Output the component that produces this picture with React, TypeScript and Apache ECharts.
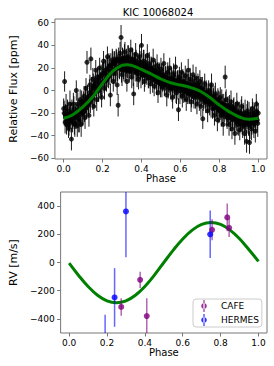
import React, { useEffect, useRef } from "react";
import * as echarts from "echarts";

const titleText = "KIC 10068024";
const phaseTicks = [0, 0.2, 0.4, 0.6, 0.8, 1.0];
const fluxTicks = [-60, -40, -20, 0, 20, 40, 60];
const rvTicks = [-400, -200, 0, 200, 400];

// [phase, flux (ppm), error (ppm)]
const fluxPoints: number[][] = [
  [0.000, -16, 9], [0.005, 8, 9], [0.010, -22, 10], [0.015, -30, 9], [0.020, -18, 10],
  [0.025, -33, 9], [0.030, -25, 11], [0.035, -20, 9], [0.040, -43, 10], [0.045, -28, 9],
  [0.050, -12, 10], [0.055, -30, 9], [0.060, -24, 10], [0.065, 0, 9], [0.070, -31, 10],
  [0.075, -17, 9], [0.080, -27, 10], [0.085, -8, 9], [0.090, -30, 11], [0.095, -14, 9],
  [0.100, -20, 10], [0.105, -5, 9], [0.110, -24, 10], [0.115, 2, 9], [0.120, 25, 10],
  [0.125, -12, 9], [0.130, -22, 10], [0.135, 5, 9], [0.140, 28, 10], [0.145, -4, 9],
  [0.150, 10, 10], [0.155, -14, 9], [0.160, 3, 10], [0.165, 18, 9], [0.170, -8, 10],
  [0.175, 12, 9], [0.180, 0, 10], [0.185, 20, 9], [0.190, 6, 10], [0.195, -6, 9],
  [0.200, 15, 10], [0.205, 26, 9], [0.210, 2, 10], [0.215, 18, 9], [0.220, 9, 10],
  [0.225, 30, 9], [0.230, 12, 10], [0.235, 22, 9], [0.240, -4, 10], [0.245, 17, 9],
  [0.250, 27, 10], [0.255, 8, 9], [0.260, 24, 10], [0.265, 15, 9], [0.270, 27, 10],
  [0.275, 5, 9], [0.280, -13, 10], [0.285, 20, 9], [0.290, 33, 10], [0.295, 47, 11],
  [0.300, 14, 10], [0.305, 28, 9], [0.310, 18, 10], [0.315, 34, 9], [0.320, 22, 10],
  [0.325, 8, 9], [0.330, 30, 10], [0.335, 18, 9], [0.340, 25, 10], [0.345, 36, 9],
  [0.350, 12, 10], [0.355, 28, 9], [0.360, -3, 10], [0.365, 24, 9], [0.370, 32, 10],
  [0.375, 17, 9], [0.380, 21, 10], [0.385, 10, 9], [0.390, 30, 10], [0.395, 19, 9],
  [0.400, 40, 10], [0.405, 14, 9], [0.410, 26, 10], [0.415, 8, 9], [0.420, 22, 10],
  [0.425, 18, 9], [0.430, 31, 10], [0.435, 11, 9], [0.440, 24, 10], [0.445, 6, 9],
  [0.450, 20, 10], [0.455, 13, 9], [0.460, 27, 10], [0.465, 4, 9], [0.470, 18, 10],
  [0.475, 10, 9], [0.480, 22, 10], [0.485, -2, 9], [0.490, 15, 10], [0.495, 8, 9],
  [0.500, 19, 10], [0.505, 3, 9], [0.510, 14, 10], [0.515, 24, 9], [0.520, 6, 10],
  [0.525, 12, 9], [0.530, -4, 10], [0.535, 16, 9], [0.540, 9, 10], [0.545, 20, 9],
  [0.550, 2, 10], [0.555, 11, 9], [0.560, -6, 10], [0.565, 15, 9], [0.570, 5, 10],
  [0.575, 21, 9], [0.580, -2, 10], [0.585, 9, 9], [0.590, -17, 10], [0.595, 12, 9],
  [0.600, 3, 10], [0.605, 16, 9], [0.610, -5, 10], [0.615, 8, 9], [0.620, 0, 10],
  [0.625, 13, 9], [0.630, -8, 10], [0.635, 6, 9], [0.640, 18, 10], [0.645, -3, 9],
  [0.650, 10, 10], [0.655, -10, 9], [0.660, 4, 10], [0.665, 14, 9], [0.670, -6, 10],
  [0.675, 2, 9], [0.680, 11, 10], [0.685, -12, 9], [0.690, 5, 10], [0.695, -2, 9],
  [0.700, 8, 10], [0.705, -14, 9], [0.710, 2, 10], [0.715, -25, 9], [0.720, -6, 10],
  [0.725, 6, 9], [0.730, -10, 10], [0.735, -2, 9], [0.740, -18, 10], [0.745, 0, 9],
  [0.750, -12, 10], [0.755, -4, 9], [0.760, 5, 10], [0.765, -16, 9], [0.770, -8, 10],
  [0.775, -22, 9], [0.780, -3, 10], [0.785, -14, 9], [0.790, -26, 10], [0.795, -9, 9],
  [0.800, -18, 10], [0.805, -6, 9], [0.810, -22, 10], [0.815, -12, 9], [0.820, -30, 10],
  [0.825, -16, 9], [0.830, 12, 10], [0.835, -8, 9], [0.840, -24, 10], [0.845, -14, 9],
  [0.850, -30, 10], [0.855, -20, 9], [0.860, -10, 10], [0.865, -34, 9], [0.870, -22, 10],
  [0.875, -15, 9], [0.880, -38, 10], [0.885, -24, 9], [0.890, -12, 10], [0.895, -30, 9],
  [0.900, -20, 10], [0.905, -35, 9], [0.910, -26, 10], [0.915, -14, 9], [0.920, -32, 10],
  [0.925, -22, 9], [0.930, -38, 10], [0.935, -27, 9], [0.940, -45, 10], [0.945, -18, 9],
  [0.950, -30, 10], [0.955, -46, 10], [0.960, -24, 9], [0.965, -34, 10], [0.970, -16, 9],
  [0.975, -28, 10], [0.980, -22, 9], [0.985, -36, 10], [0.990, -12, 9], [0.995, -26, 10],
  [1.000, -20, 9],
];

// second, interleaved set of Kepler points [phase, flux (ppm), error (ppm)]
const fluxPoints2: number[][] = [
  [0.0025, -20, 11], [0.0075, -28, 10], [0.0125, -15, 12], [0.0175, -26, 10], [0.0225, -21, 11],
  [0.0275, -30, 10], [0.0325, -12, 12], [0.0375, -27, 10], [0.0425, -19, 11], [0.0475, -24, 10],
  [0.0525, -16, 11], [0.0575, -29, 12], [0.0625, -20, 10], [0.0675, -23, 11], [0.0725, -12, 10],
  [0.0775, -25, 12], [0.0825, -18, 10], [0.0875, -21, 11], [0.0925, -10, 10], [0.0975, -19, 12],
  [0.1025, -12, 11], [0.1075, -18, 10], [0.1125, -8, 12], [0.1175, -15, 10], [0.1225, -6, 11],
  [0.1275, -13, 10], [0.1325, -2, 12], [0.1375, -10, 10], [0.1425, 1, 11], [0.1475, -7, 10],
  [0.1525, 4, 11], [0.1575, -3, 12], [0.1625, 6, 10], [0.1675, -1, 11], [0.1725, 9, 10],
  [0.1775, 2, 12], [0.1825, 11, 10], [0.1875, 4, 11], [0.1925, 13, 10], [0.1975, 7, 12],
  [0.2025, 14, 11], [0.2075, 8, 10], [0.2125, 16, 12], [0.2175, 10, 10], [0.2225, 19, 11],
  [0.2275, 13, 10], [0.2325, 21, 12], [0.2375, 15, 10], [0.2425, 22, 11], [0.2475, 17, 10],
  [0.2525, 24, 11], [0.2575, 18, 12], [0.2625, 25, 10], [0.2675, 19, 11], [0.2725, 26, 10],
  [0.2775, 20, 12], [0.2825, 28, 10], [0.2875, 21, 11], [0.2925, 26, 10], [0.2975, 19, 12],
  [0.3025, 27, 11], [0.3075, 20, 10], [0.3125, 29, 12], [0.3175, 18, 10], [0.3225, 26, 11],
  [0.3275, 21, 10], [0.3325, 28, 12], [0.3375, 17, 10], [0.3425, 25, 11], [0.3475, 20, 10],
  [0.3525, 27, 11], [0.3575, 16, 12], [0.3625, 24, 10], [0.3675, 19, 11], [0.3725, 26, 10],
  [0.3775, 15, 12], [0.3825, 23, 10], [0.3875, 18, 11], [0.3925, 25, 10], [0.3975, 14, 12],
  [0.4025, 22, 11], [0.4075, 16, 10], [0.4125, 24, 12], [0.4175, 13, 10], [0.4225, 20, 11],
  [0.4275, 15, 10], [0.4325, 21, 12], [0.4375, 12, 10], [0.4425, 19, 11], [0.4475, 14, 10],
  [0.4525, 18, 11], [0.4575, 10, 12], [0.4625, 17, 10], [0.4675, 12, 11], [0.4725, 16, 10],
  [0.4775, 8, 12], [0.4825, 15, 10], [0.4875, 10, 11], [0.4925, 14, 10], [0.4975, 6, 12],
  [0.5025, 13, 11], [0.5075, 9, 10], [0.5125, 12, 12], [0.5175, 5, 10], [0.5225, 11, 11],
  [0.5275, 7, 10], [0.5325, 10, 12], [0.5375, 3, 10], [0.5425, 9, 11], [0.5475, 6, 10],
  [0.5525, 10, 11], [0.5575, 2, 12], [0.5625, 8, 10], [0.5675, 4, 11], [0.5725, 9, 10],
  [0.5775, 1, 12], [0.5825, 7, 10], [0.5875, 3, 11], [0.5925, 8, 10], [0.5975, 0, 12],
  [0.6025, 6, 11], [0.6075, 2, 10], [0.6125, 7, 12], [0.6175, -1, 10], [0.6225, 5, 11],
  [0.6275, 1, 10], [0.6325, 6, 12], [0.6375, -2, 10], [0.6425, 4, 11], [0.6475, 0, 10],
  [0.6525, 5, 11], [0.6575, -3, 12], [0.6625, 3, 10], [0.6675, -1, 11], [0.6725, 4, 10],
  [0.6775, -4, 12], [0.6825, 2, 10], [0.6875, -2, 11], [0.6925, 3, 10], [0.6975, -6, 12],
  [0.7025, 1, 11], [0.7075, -4, 10], [0.7125, 0, 12], [0.7175, -8, 10], [0.7225, -2, 11],
  [0.7275, -6, 10], [0.7325, -3, 12], [0.7375, -10, 10], [0.7425, -5, 11], [0.7475, -9, 10],
  [0.7525, -4, 11], [0.7575, -12, 12], [0.7625, -7, 10], [0.7675, -11, 11], [0.7725, -6, 10],
  [0.7775, -15, 12], [0.7825, -10, 10], [0.7875, -14, 11], [0.7925, -8, 10], [0.7975, -17, 12],
  [0.8025, -12, 11], [0.8075, -16, 10], [0.8125, -11, 12], [0.8175, -20, 10], [0.8225, -14, 11],
  [0.8275, -18, 10], [0.8325, -13, 12], [0.8375, -22, 10], [0.8425, -17, 11], [0.8475, -21, 10],
  [0.8525, -15, 11], [0.8575, -24, 12], [0.8625, -18, 10], [0.8675, -23, 11], [0.8725, -17, 10],
  [0.8775, -26, 12], [0.8825, -20, 10], [0.8875, -25, 11], [0.8925, -19, 10], [0.8975, -28, 12],
  [0.9025, -21, 11], [0.9075, -26, 10], [0.9125, -20, 12], [0.9175, -29, 10], [0.9225, -22, 11],
  [0.9275, -27, 10], [0.9325, -20, 12], [0.9375, -30, 10], [0.9425, -23, 11], [0.9475, -28, 10],
  [0.9525, -21, 11], [0.9575, -31, 12], [0.9625, -24, 10], [0.9675, -28, 11], [0.9725, -20, 10],
  [0.9775, -30, 12], [0.9825, -23, 10], [0.9875, -27, 11], [0.9925, -19, 10], [0.9975, -29, 12],
];

const fluxModelPhase = [0, 0.045, 0.1, 0.15, 0.2, 0.25, 0.3, 0.325, 0.35, 0.4, 0.45, 0.5, 0.55, 0.6, 0.65, 0.7, 0.75, 0.8, 0.85, 0.9, 0.95, 1.0];
const fluxModelValue = [-24.6, -21.7, -14.3, -5.5, 6.3, 16.7, 22.3, 22.9, 22.3, 18.7, 14.6, 10.2, 6.9, 4.9, 2.8, -0.4, -6, -12.8, -18.7, -23.2, -25.5, -24.6];

// [phase, RV (m/s), error (m/s)]
const cafePoints: number[][] = [
  [0.275, -315, 62],
  [0.375, -123, 58],
  [0.41, -380, 126],
  [0.755, 232, 75],
  [0.835, 320, 98],
  [0.845, 246, 65],
];
const hermesPoints: number[][] = [
  [0.19, -620, 250],
  [0.24, -248, 208],
  [0.30, 362, 325],
  [0.745, 200, 168],
];

const rvModelPhase = [0, 0.05, 0.1, 0.15, 0.2, 0.25, 0.3, 0.35, 0.4, 0.45, 0.5, 0.55, 0.6, 0.65, 0.7, 0.75, 0.8, 0.85, 0.9, 0.95, 1.0];
const rvModelValue = [-5, -92, -170, -232, -272, -285, -272, -232, -170, -90, 0, 88, 167, 230, 270, 283, 270, 230, 168, 90, 8];

const FONT = "DejaVu Sans";
const FRAME = "#777";

function errorBarSeries(data: number[][], xi: number, color: string, width: number) {
  return {
    type: "custom",
    xAxisIndex: xi,
    yAxisIndex: xi,
    clip: true,
    silent: true,
    z: 2,
    data,
    encode: { x: 0, y: 1 },
    renderItem: (_p: any, api: any) => {
      const x = api.value(0);
      const y = api.value(1);
      const e = api.value(2);
      const a = api.coord([x, y - e]);
      const b = api.coord([x, y + e]);
      return {
        type: "line",
        shape: { x1: a[0], y1: a[1], x2: b[0], y2: b[1] },
        style: { stroke: color, lineWidth: width },
      };
    },
  };
}

function minus(v: number, digits: number) {
  const s = v.toFixed(digits);
  return s.replace("-", "\u2212");
}

function xAxisCfg(gridIndex: number, gap: number) {
  return {
    type: "value",
    gridIndex,
    min: -0.045,
    max: 1.045,
    name: "Phase",
    nameLocation: "middle",
    nameGap: gap,
    nameTextStyle: { fontFamily: FONT, fontSize: 10, color: "#000" },
    axisLine: { show: false, onZero: false },
    splitLine: { show: false },
    axisTick: { show: true, length: 3.5, customValues: phaseTicks, lineStyle: { color: FRAME } },
    axisLabel: {
      customValues: phaseTicks,
      formatter: (v: number) => minus(v, 1),
      fontFamily: FONT,
      fontSize: 9,
      color: "#000",
      margin: 5,
    },
  };
}

function yAxisCfg(gridIndex: number, min: number, max: number, ticks: number[], name: string, gap: number) {
  return {
    type: "value",
    gridIndex,
    min,
    max,
    name,
    nameLocation: "middle",
    nameGap: gap,
    nameTextStyle: { fontFamily: FONT, fontSize: 11, color: "#000" },
    axisLine: { show: false, onZero: false },
    splitLine: { show: false },
    axisTick: { show: true, length: 3.5, customValues: ticks, lineStyle: { color: FRAME } },
    axisLabel: {
      customValues: ticks,
      formatter: (v: number) => minus(v, 0),
      fontFamily: FONT,
      fontSize: 9,
      color: "#000",
      margin: 6,
    },
  };
}

const legendIcon =
  "path://M0,0h0.01v0.01h-0.01z M17.99,11.99h0.01v0.01h-0.01z M5.4,0h1.2v12h-1.2z M6,3.2a2.8,2.8 0 1,0 0.001,0z";

export default function App() {
  const ref = useRef<HTMLDivElement>(null);
  useEffect(() => {
    if (!ref.current) return;
    const chart = echarts.init(ref.current, undefined, { renderer: "svg" });
    const allFlux = fluxPoints.concat(fluxPoints2);
    const option: any = {
      animation: false,
      backgroundColor: "#fff",
      textStyle: { fontFamily: FONT },
      grid: [
        { left: 49, top: 19, width: 218, height: 140, show: true, borderColor: FRAME, borderWidth: 1, backgroundColor: "transparent" },
        { left: 49, top: 192, width: 218, height: 141, show: true, borderColor: FRAME, borderWidth: 1, backgroundColor: "transparent" },
      ],
      xAxis: [xAxisCfg(0, 7), xAxisCfg(1, 6)],
      yAxis: [
        yAxisCfg(0, -60.6, 63.3, fluxTicks, "Relative Flux [ppm]", 23),
        yAxisCfg(1, -500, 500, rvTicks, "RV [m/s]", 31),
      ],
      graphic: [
        {
          type: "text",
          x: 158,
          y: 12,
          style: {
            text: titleText,
            fontFamily: FONT,
            fontSize: 10,
            fill: "#000",
            textAlign: "center",
            textVerticalAlign: "middle",
          },
        },
      ],
      legend: {
        data: [
          { name: "CAFE", icon: legendIcon },
          { name: "HERMES", icon: legendIcon },
        ],
        orient: "vertical",
        left: 193,
        top: 299,
        itemWidth: 18,
        itemHeight: 12,
        itemGap: 2,
        padding: [1, 3, 1, 5],
        borderColor: "#ccc",
        borderWidth: 1,
        borderRadius: 3,
        backgroundColor: "rgba(255,255,255,0.8)",
        textStyle: { fontFamily: FONT, fontSize: 9, color: "#000" },
        selectedMode: false,
      },
      series: [
        errorBarSeries(allFlux, 0, "rgba(0,0,0,0.9)", 1),
        {
          type: "scatter",
          xAxisIndex: 0,
          yAxisIndex: 0,
          data: allFlux.map((p) => [p[0], p[1]]),
          symbol: "circle",
          symbolSize: 5,
          itemStyle: { color: "#000" },
          z: 3,
          silent: true,
        },
        {
          type: "line",
          xAxisIndex: 0,
          yAxisIndex: 0,
          data: fluxModelPhase.map((p, i) => [p, fluxModelValue[i]]),
          smooth: 0.4,
          showSymbol: false,
          lineStyle: { color: "#008000", width: 3 },
          z: 4,
          silent: true,
        },
        {
          type: "line",
          xAxisIndex: 1,
          yAxisIndex: 1,
          data: rvModelPhase.map((p, i) => [p, rvModelValue[i]]),
          smooth: 0.4,
          showSymbol: false,
          lineStyle: { color: "#008000", width: 3 },
          z: 1,
          silent: true,
        },
        errorBarSeries(cafePoints, 1, "rgba(128,0,128,0.6)", 1.5),
        errorBarSeries(hermesPoints, 1, "rgba(0,0,255,0.6)", 1.5),
        {
          name: "CAFE",
          type: "scatter",
          xAxisIndex: 1,
          yAxisIndex: 1,
          data: cafePoints.map((p) => [p[0], p[1]]),
          symbol: "circle",
          symbolSize: 6,
          itemStyle: { color: "#800080" },
          z: 3,
          silent: true,
        },
        {
          name: "HERMES",
          type: "scatter",
          xAxisIndex: 1,
          yAxisIndex: 1,
          data: hermesPoints.map((p) => [p[0], p[1]]),
          symbol: "circle",
          symbolSize: 6,
          itemStyle: { color: "#0000ff" },
          z: 3,
          silent: true,
        },
      ],
    };
    chart.setOption(option);
    return () => chart.dispose();
  }, []);
  return <div ref={ref} style={{ position: "fixed", left: 0, top: 0, width: 274, height: 366 }} />;
}
